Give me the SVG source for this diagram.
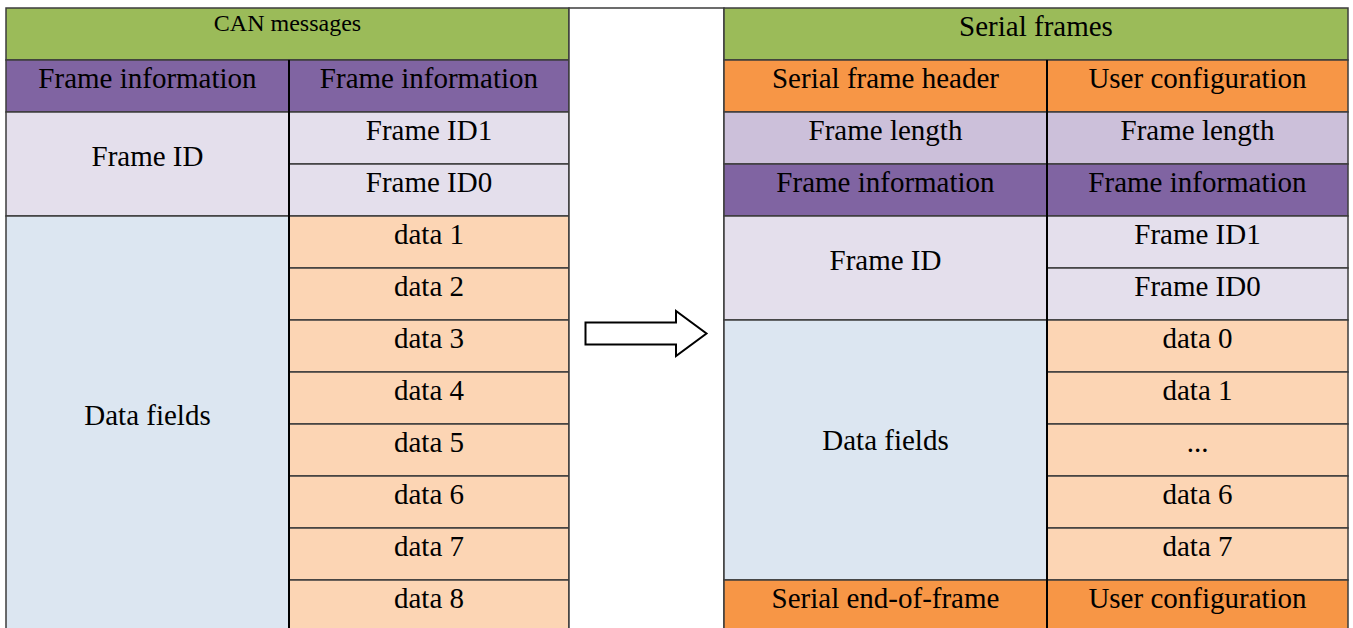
<svg xmlns="http://www.w3.org/2000/svg" width="1353" height="628" viewBox="0 0 1353 628">
  <style>
    .cell { stroke: #3c3c3c; stroke-width: 1.5; }
    .green { fill: #9BBB59; }
    .purple { fill: #8064A2; }
    .lav { fill: #E4DFEC; }
    .lilac { fill: #CCC0DA; }
    .blue { fill: #DCE6F1; }
    .peach { fill: #FCD5B4; }
    .orange { fill: #F79646; }
    .blank { fill: #FFFFFF; }
    text { font-family: "Liberation Serif", "Times New Roman", serif; font-size: 29px; fill: #000; text-anchor: middle; }
    .small { font-size: 24px; }
    .split { stroke: #000; stroke-width: 2; }
    .arrow { fill: #FFFFFF; stroke: #000; stroke-width: 2; stroke-linejoin: miter; }
  </style>

  <rect x="0" y="0" width="1353" height="628" fill="#FFFFFF"/>

  <!-- CAN message table -->
  <g id="can-header"><rect class="cell green" x="6" y="8" width="563" height="52"/><text class="small" x="287.5" y="31">CAN messages</text></g>
  <g id="can-info-a"><rect class="cell purple" x="6" y="60" width="283" height="52"/><text x="147.5" y="88">Frame information</text></g>
  <g id="can-info-b"><rect class="cell purple" x="289" y="60" width="280" height="52"/><text x="429" y="88">Frame information</text></g>
  <g id="can-frame-id"><rect class="cell lav" x="6" y="112" width="283" height="104"/><text x="147.5" y="166">Frame ID</text></g>
  <g id="can-id1"><rect class="cell lav" x="289" y="112" width="280" height="52"/><text x="429" y="140">Frame ID1</text></g>
  <g id="can-id0"><rect class="cell lav" x="289" y="164" width="280" height="52"/><text x="429" y="192">Frame ID0</text></g>
  <g id="can-data-fields"><rect class="cell blue" x="6" y="216" width="283" height="420"/><text x="147.5" y="425">Data fields</text></g>
  <g id="can-data1"><rect class="cell peach" x="289" y="216" width="280" height="52"/><text x="429" y="244">data 1</text></g>
  <g id="can-data2"><rect class="cell peach" x="289" y="268" width="280" height="52"/><text x="429" y="296">data 2</text></g>
  <g id="can-data3"><rect class="cell peach" x="289" y="320" width="280" height="52"/><text x="429" y="348">data 3</text></g>
  <g id="can-data4"><rect class="cell peach" x="289" y="372" width="280" height="52"/><text x="429" y="400">data 4</text></g>
  <g id="can-data5"><rect class="cell peach" x="289" y="424" width="280" height="52"/><text x="429" y="452">data 5</text></g>
  <g id="can-data6"><rect class="cell peach" x="289" y="476" width="280" height="52"/><text x="429" y="504">data 6</text></g>
  <g id="can-data7"><rect class="cell peach" x="289" y="528" width="280" height="52"/><text x="429" y="556">data 7</text></g>
  <g id="can-data8"><rect class="cell peach" x="289" y="580" width="280" height="56"/><text x="429" y="608">data 8</text></g>
  <line class="split" x1="289" y1="60" x2="289" y2="636"/>

  <!-- spacer column between the two tables -->
  <g id="gap"><rect class="cell blank" x="569" y="8" width="155" height="628"/></g>

  <!-- Serial frame table -->
  <g id="ser-header"><rect class="cell green" x="724" y="8" width="624" height="52"/><text x="1036" y="36">Serial frames</text></g>
  <g id="ser-head-a"><rect class="cell orange" x="724" y="60" width="323" height="52"/><text x="885.5" y="88">Serial frame header</text></g>
  <g id="ser-head-b"><rect class="cell orange" x="1047" y="60" width="301" height="52"/><text x="1197.5" y="88">User configuration</text></g>
  <g id="ser-len-a"><rect class="cell lilac" x="724" y="112" width="323" height="52"/><text x="885.5" y="140">Frame length</text></g>
  <g id="ser-len-b"><rect class="cell lilac" x="1047" y="112" width="301" height="52"/><text x="1197.5" y="140">Frame length</text></g>
  <g id="ser-info-a"><rect class="cell purple" x="724" y="164" width="323" height="52"/><text x="885.5" y="192">Frame information</text></g>
  <g id="ser-info-b"><rect class="cell purple" x="1047" y="164" width="301" height="52"/><text x="1197.5" y="192">Frame information</text></g>
  <g id="ser-frame-id"><rect class="cell lav" x="724" y="216" width="323" height="104"/><text x="885.5" y="270">Frame ID</text></g>
  <g id="ser-id1"><rect class="cell lav" x="1047" y="216" width="301" height="52"/><text x="1197.5" y="244">Frame ID1</text></g>
  <g id="ser-id0"><rect class="cell lav" x="1047" y="268" width="301" height="52"/><text x="1197.5" y="296">Frame ID0</text></g>
  <g id="ser-data-fields"><rect class="cell blue" x="724" y="320" width="323" height="260"/><text x="885.5" y="450">Data fields</text></g>
  <g id="ser-data0"><rect class="cell peach" x="1047" y="320" width="301" height="52"/><text x="1197.5" y="348">data 0</text></g>
  <g id="ser-data1"><rect class="cell peach" x="1047" y="372" width="301" height="52"/><text x="1197.5" y="400">data 1</text></g>
  <g id="ser-ellipsis"><rect class="cell peach" x="1047" y="424" width="301" height="52"/><text x="1197.5" y="452">...</text></g>
  <g id="ser-data6"><rect class="cell peach" x="1047" y="476" width="301" height="52"/><text x="1197.5" y="504">data 6</text></g>
  <g id="ser-data7"><rect class="cell peach" x="1047" y="528" width="301" height="52"/><text x="1197.5" y="556">data 7</text></g>
  <g id="ser-eof-a"><rect class="cell orange" x="724" y="580" width="323" height="56"/><text x="885.5" y="608">Serial end-of-frame</text></g>
  <g id="ser-eof-b"><rect class="cell orange" x="1047" y="580" width="301" height="56"/><text x="1197.5" y="608">User configuration</text></g>
  <line class="split" x1="1047" y1="60" x2="1047" y2="636"/>

  <!-- conversion arrow -->
  <g id="connectors">
    <polygon class="arrow" points="585.5,322.5 676,322.5 676,311 706.5,333.5 676,356 676,344.5 585.5,344.5"/>
  </g>
</svg>
